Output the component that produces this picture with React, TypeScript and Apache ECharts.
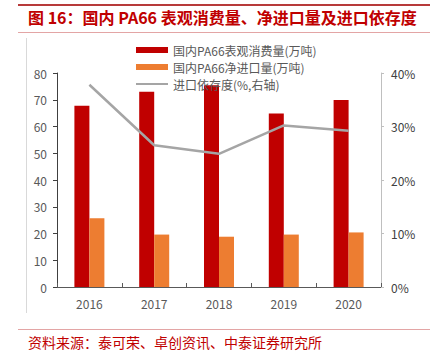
import React, { useEffect, useRef } from "react";
import * as echarts from "echarts";

const categories = ["2016", "2017", "2018", "2019", "2020"];
const consumption = [67.8, 73.0, 75.4, 64.9, 69.9];
const netImport = [25.7, 19.6, 18.8, 19.6, 20.4];
const dependence = [37.8, 26.5, 24.9, 30.2, 29.2];
const leftTicks = [0, 80, 10];
const rightTicks = [0, 40, 10];

const titleText = "图 16：国内 PA66 表观消费量、净进口量及进口依存度";
const sourceText = "资料来源：泰可荣、卓创资讯、中泰证券研究所";
const names = ["国内PA66表观消费量(万吨)", "国内PA66净进口量(万吨)", "进口依存度(%,右轴)"];

export default function App() {
  const ref = useRef<HTMLDivElement>(null);
  useEffect(() => {
    if (!ref.current) return;
    const chart = echarts.init(ref.current, null, { renderer: "svg" });
    const font = "'Noto Sans CJK SC', sans-serif";
    chart.setOption({
      animation: false,
      textStyle: { fontFamily: font },
      graphic: [
        { type: "rect", shape: { x: 18, y: 4, width: 412, height: 2 }, style: { fill: "#b73a3a" } },
        {
          type: "text", left: 28, top: 9,
          style: { text: titleText, fill: "#c00000", fontSize: 16, fontWeight: "bold", fontFamily: font },
        },
        { type: "rect", shape: { x: 18, y: 32, width: 412, height: 1 }, style: { fill: "#e3a5a5" } },
        { type: "rect", shape: { x: 26, y: 38, width: 1, height: 275 }, style: { fill: "#d9d9d9" } },
        { type: "rect", shape: { x: 18, y: 329, width: 412, height: 1 }, style: { fill: "#e3a5a5" } },
        {
          type: "text", left: 28, top: 335,
          style: { text: sourceText, fill: "#c00000", fontSize: 14, fontFamily: font },
        },
      ],
      legend: {
        orient: "vertical",
        left: 130,
        top: 39,
        itemWidth: 32,
        itemHeight: 6,
        itemGap: 5,
        textStyle: { color: "#595959", fontSize: 12, lineHeight: 12, fontFamily: font },
        data: [
          { name: names[0], icon: "rect" },
          { name: names[1], icon: "rect" },
          { name: names[2], itemStyle: { opacity: 0 } },
        ],
      },
      grid: { left: 57, right: 61, top: 73, bottom: 64 },
      xAxis: {
        type: "category",
        data: categories,
        axisLine: { lineStyle: { color: "#595959", width: 1 } },
        axisTick: { show: true, inside: true, length: 4, lineStyle: { color: "#595959" } },
        axisLabel: { color: "#595959", fontSize: 12, margin: 10 },
      },
      yAxis: [
        {
          type: "value",
          min: leftTicks[0], max: leftTicks[1], interval: leftTicks[2],
          splitLine: { show: false },
          axisLine: { show: true, lineStyle: { color: "#404040" } },
          axisTick: { show: true, length: 4, lineStyle: { color: "#404040" } },
          axisLabel: { color: "#595959", fontSize: 12, margin: 10 },
        },
        {
          type: "value",
          min: rightTicks[0], max: rightTicks[1], interval: rightTicks[2],
          splitLine: { show: false },
          axisLine: { show: true, lineStyle: { color: "#bfbfbf" } },
          axisTick: { show: true, length: 3, lineStyle: { color: "#bfbfbf" } },
          axisLabel: { color: "#404040", fontSize: 12, margin: 10, formatter: "{value}%" },
        },
      ],
      series: [
        {
          name: names[0], type: "bar", data: consumption, barWidth: 15, barGap: "0%",
          itemStyle: { color: "#c00000" },
        },
        {
          name: names[1], type: "bar", data: netImport, barWidth: 15,
          itemStyle: { color: "#ed7d31" },
        },
        {
          name: names[2], type: "line", yAxisIndex: 1, data: dependence,
          symbol: "none", showSymbol: false,
          lineStyle: { color: "#a5a5a5", width: 2.5 },
          itemStyle: { color: "#a5a5a5" },
        },
      ],
    });
    return () => chart.dispose();
  }, []);
  return <div ref={ref} style={{ width: 442, height: 351, position: "absolute", left: 0, top: 0 }} />;
}
